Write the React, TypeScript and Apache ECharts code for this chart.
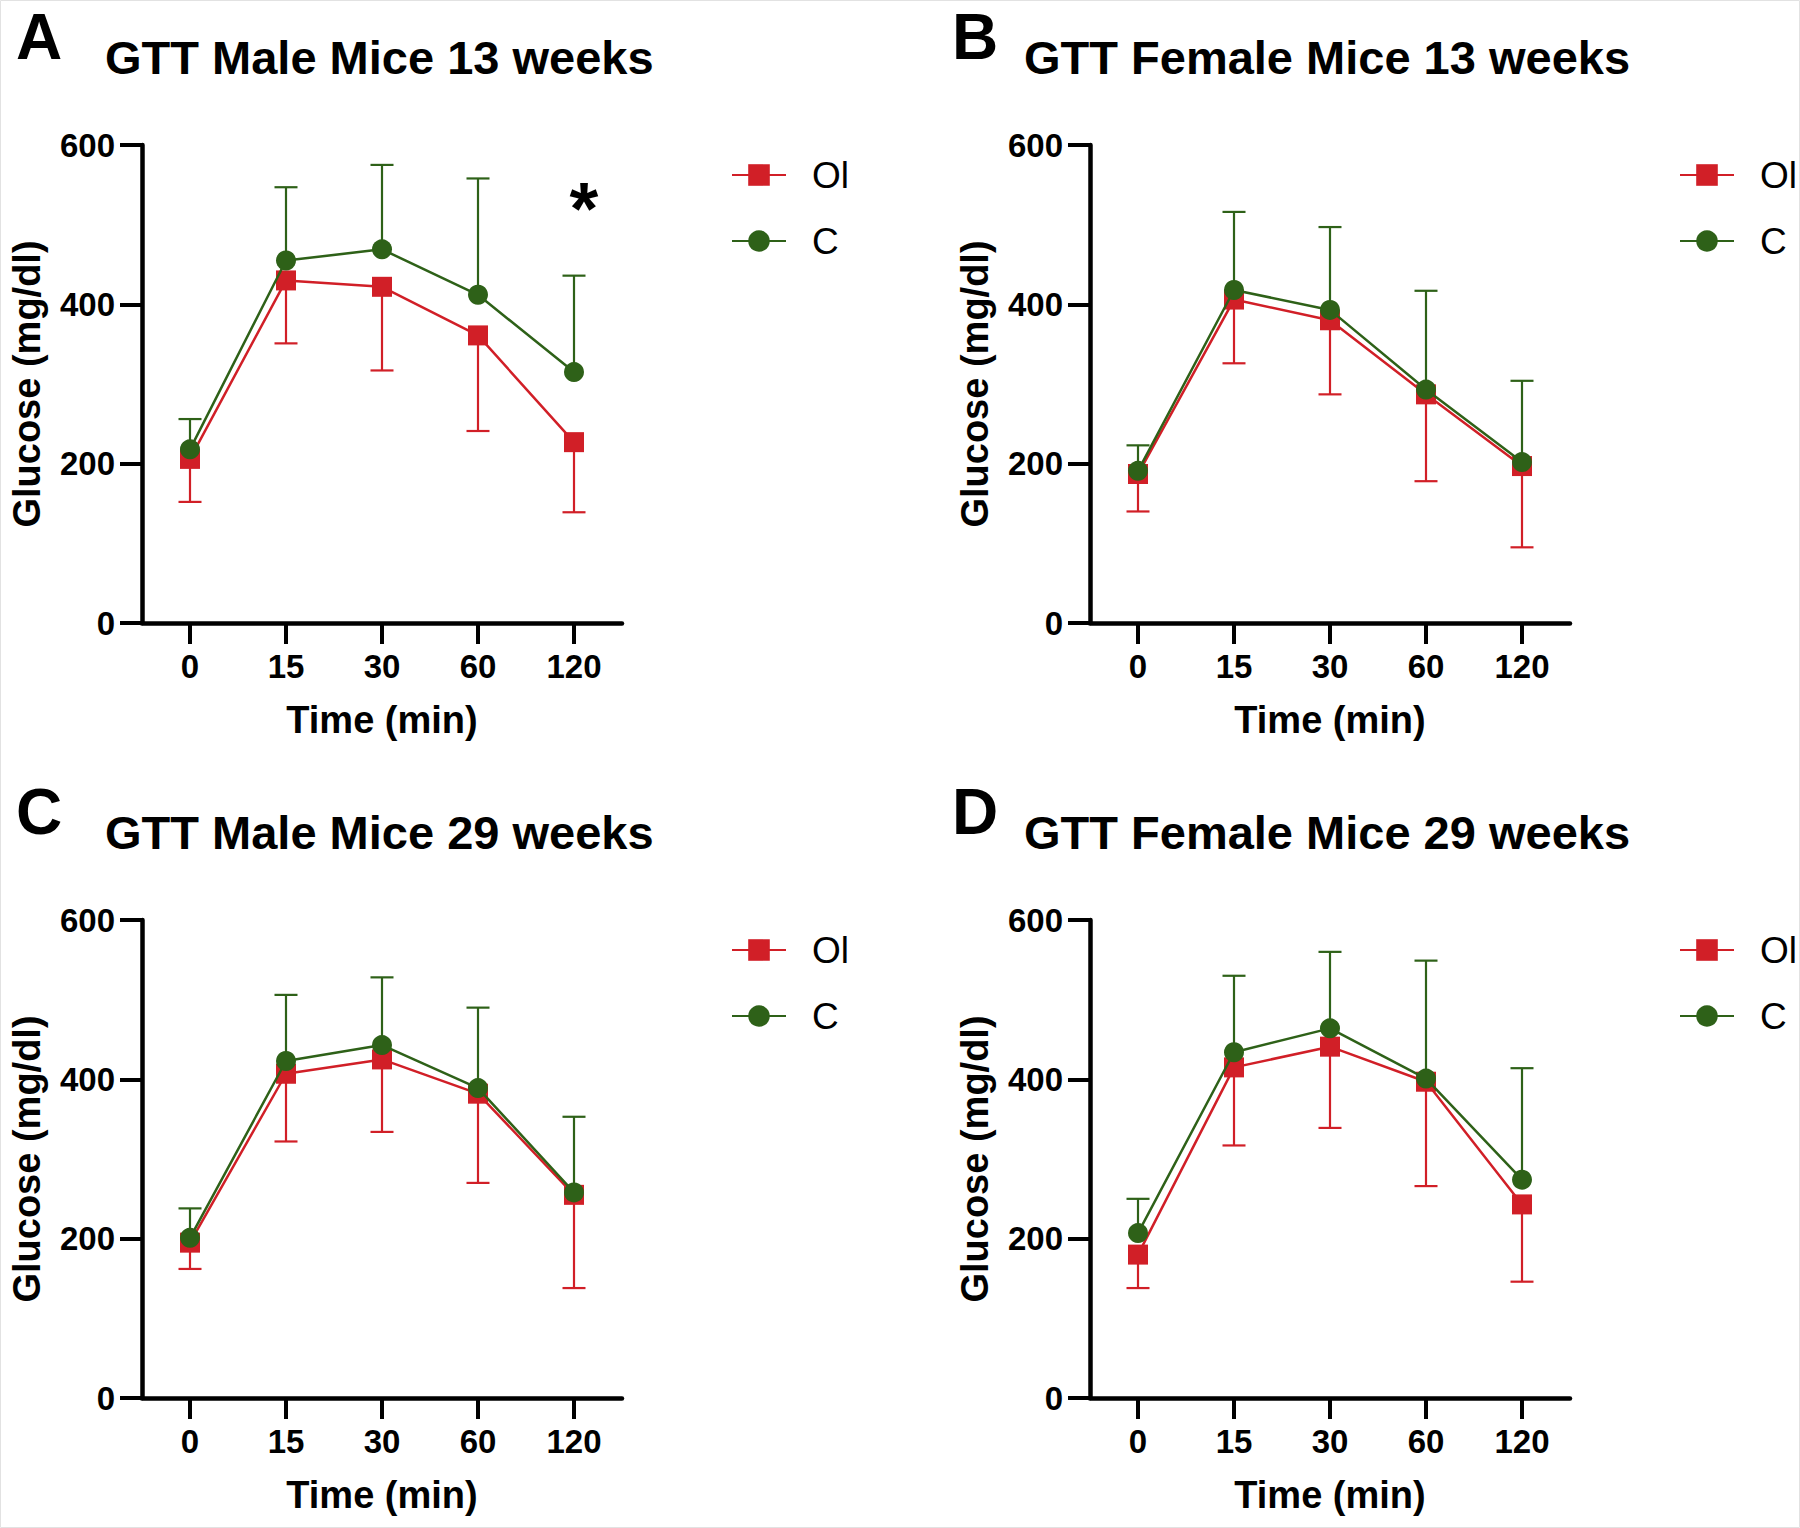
import React, { useEffect, useRef } from "react";
import * as echarts from "echarts";

// ---- data ----
const categories = ["0", "15", "30", "60", "120"];
const seriesNames = ["Ol", "C"];
const panelLetters = ["A", "B", "C", "D"];
const panelTitles = [
  "GTT Male Mice 13 weeks",
  "GTT Female Mice 13 weeks",
  "GTT Male Mice 29 weeks",
  "GTT Female Mice 29 weeks",
];
const yTicks = [0, 200, 400, 600];

// mean glucose (mg/dl)
const olA = [206, 430, 422, 361, 227];
const cA = [218, 455, 469, 412, 315];
const olB = [187, 406, 380, 287, 197];
const cB = [191, 418, 393, 293, 202];
const olC = [195, 407, 425, 382, 255];
const cC = [201, 423, 443, 389, 258];
const olD = [180, 415, 441, 397, 243];
const cD = [207, 434, 464, 401, 274];

// error bar magnitudes (Ol drawn downward, C drawn upward)
const olErrA = [54, 79, 105, 120, 88];
const cErrA = [38, 92, 106, 146, 121];
const olErrB = [47, 80, 93, 109, 102];
const cErrB = [32, 98, 104, 124, 102];
const olErrC = [33, 85, 91, 112, 117];
const cErrC = [37, 83, 85, 101, 95];
const olErrD = [42, 98, 102, 131, 97];
const cErrD = [43, 96, 96, 148, 140];

// significance marks (panel A only)
const sigA = ["", "", "", "", "*"];
const sigLevelA = 530;

const panels = [
  { ol: olA, c: cA, olErr: olErrA, cErr: cErrA, sig: sigA },
  { ol: olB, c: cB, olErr: olErrB, cErr: cErrB, sig: null },
  { ol: olC, c: cC, olErr: olErrC, cErr: cErrC, sig: null },
  { ol: olD, c: cD, olErr: olErrD, cErr: cErrD, sig: null },
];

const RED = "#d11f27";
const GREEN = "#2e6118";
const FONT = "'Liberation Sans', Arial, Helvetica, sans-serif";

// layout (px)
const gridLefts = [142, 1090];
const gridTops = [145, 920];
const gridW = 480;
const gridH = 478;

function errorBarSeries(gridIdx: number, vals: number[], errs: number[], dir: number, color: string) {
  return {
    type: "custom",
    xAxisIndex: gridIdx,
    yAxisIndex: gridIdx,
    silent: true,
    z: 2,
    data: vals.map((v, i) => [i, v, v + dir * errs[i]]),
    renderItem: (params: any, api: any) => {
      const p0 = api.coord([api.value(0), api.value(1)]);
      const p1 = api.coord([api.value(0), api.value(2)]);
      const half = 11.5;
      const style = { stroke: color, lineWidth: 2.2 };
      return {
        type: "group",
        children: [
          { type: "line", shape: { x1: p0[0], y1: p0[1], x2: p1[0], y2: p1[1] }, style },
          { type: "line", shape: { x1: p1[0] - half, y1: p1[1], x2: p1[0] + half, y2: p1[1] }, style },
        ],
      };
    },
  };
}

function sigSeries(gridIdx: number, marks: string[], level: number) {
  const items = marks.map((m, i) => [i, level, m]).filter((d) => d[2] !== "");
  return {
    type: "custom",
    xAxisIndex: gridIdx,
    yAxisIndex: gridIdx,
    silent: true,
    z: 5,
    data: items.map((d) => [d[0], d[1]]),
    renderItem: (params: any, api: any) => {
      const p = api.coord([api.value(0), api.value(1)]);
      const d = items[params.dataIndex];
      return {
        type: "text",
        x: p[0] + 10,
        y: p[1] + 8,
        style: {
          text: String(d[2]),
          fontSize: 74,
          fontWeight: "bold",
          fontFamily: FONT,
          fill: "#000",
          textAlign: "center",
          textVerticalAlign: "middle",
        },
      };
    },
  };
}

export default function App() {
  const ref = useRef<HTMLDivElement>(null);

  useEffect(() => {
    if (!ref.current) return;
    const chart = echarts.init(ref.current, null, { renderer: "svg" });

    const grids: any[] = [];
    const xAxes: any[] = [];
    const yAxes: any[] = [];
    const series: any[] = [];
    const legends: any[] = [];
    const graphics: any[] = [];

    panels.forEach((p, k) => {
      const col = k % 2;
      const row = Math.floor(k / 2);
      const left = gridLefts[col];
      const top = gridTops[row];
      grids.push({ left, top, width: gridW, height: gridH, containLabel: false });
      xAxes.push({
        type: "category",
        gridIndex: k,
        data: categories,
        boundaryGap: true,
        axisLine: { show: true, onZero: false, lineStyle: { color: "#000", width: 4.5 } },
        axisTick: { show: true, alignWithLabel: true, length: 21, lineStyle: { color: "#000", width: 4 } },
        axisLabel: {
          color: "#000",
          fontSize: 33,
          fontWeight: "bold",
          fontFamily: FONT,
          margin: 27,
        },
        splitLine: { show: false },
        name: "Time (min)",
        nameLocation: "middle",
        nameGap: 78,
        nameTextStyle: { color: "#000", fontSize: 38, fontWeight: "bold", fontFamily: FONT },
      });
      yAxes.push({
        type: "value",
        gridIndex: k,
        min: yTicks[0],
        max: yTicks[yTicks.length - 1],
        interval: 200,
        axisLine: { show: true, lineStyle: { color: "#000", width: 4.5 } },
        axisTick: { show: true, length: 22, lineStyle: { color: "#000", width: 4 } },
        axisLabel: {
          color: "#000",
          fontSize: 33,
          fontWeight: "bold",
          fontFamily: FONT,
          margin: 27,
        },
        splitLine: { show: false },
        name: "Glucose (mg/dl)",
        nameLocation: "middle",
        nameRotate: 90,
        nameGap: 96,
        nameTextStyle: { color: "#000", fontSize: 38, fontWeight: "bold", fontFamily: FONT },
      });

      series.push(errorBarSeries(k, p.ol, p.olErr, -1, RED));
      series.push(errorBarSeries(k, p.c, p.cErr, 1, GREEN));
      series.push({
        type: "line",
        name: seriesNames[0],
        xAxisIndex: k,
        yAxisIndex: k,
        data: p.ol,
        symbol: "rect",
        symbolSize: 20,
        lineStyle: { color: RED, width: 2.5 },
        itemStyle: { color: RED },
        z: 3,
      });
      series.push({
        type: "line",
        name: seriesNames[1],
        xAxisIndex: k,
        yAxisIndex: k,
        data: p.c,
        symbol: "circle",
        symbolSize: 20,
        lineStyle: { color: GREEN, width: 2.5 },
        itemStyle: { color: GREEN },
        z: 4,
      });
      if (p.sig) series.push(sigSeries(k, p.sig, sigLevelA));

      legends.push({
        orient: "vertical",
        left: col === 0 ? 726 : 1674,
        top: top + 5,
        itemWidth: 54,
        itemHeight: 27,
        itemGap: 26,
        data: seriesNames,
        selectedMode: false,
        textStyle: {
          color: "#000",
          fontSize: 37,
          fontFamily: FONT,
          lineHeight: 40,
          padding: [0, 0, 0, 21],
        },
      });

      graphics.push({
        type: "text",
        x: col === 0 ? 16 : 952,
        y: top - 108,
        style: {
          text: panelLetters[k],
          fontSize: 64,
          fontWeight: "bold",
          fontFamily: FONT,
          fill: "#000",
          textVerticalAlign: "middle",
        },
      });
      graphics.push({
        type: "text",
        x: col === 0 ? 105 : 1024,
        y: top - 88,
        style: {
          text: panelTitles[k],
          fontSize: 47,
          fontWeight: "bold",
          fontFamily: FONT,
          fill: "#000",
          textVerticalAlign: "middle",
        },
      });
    });

    graphics.push({
      type: "rect",
      shape: { x: 0.5, y: 0.5, width: 1799, height: 1527 },
      style: { fill: "none", stroke: "#e2e2e2", lineWidth: 1 },
      silent: true,
    });

    chart.setOption({
      animation: false,
      backgroundColor: "#fff",
      grid: grids,
      xAxis: xAxes,
      yAxis: yAxes,
      legend: legends,
      series,
      graphic: graphics,
    });

    return () => chart.dispose();
  }, []);

  return (
    <div
      ref={ref}
      style={{ position: "absolute", left: 0, top: 0, width: 1800, height: 1528 }}
    />
  );
}
